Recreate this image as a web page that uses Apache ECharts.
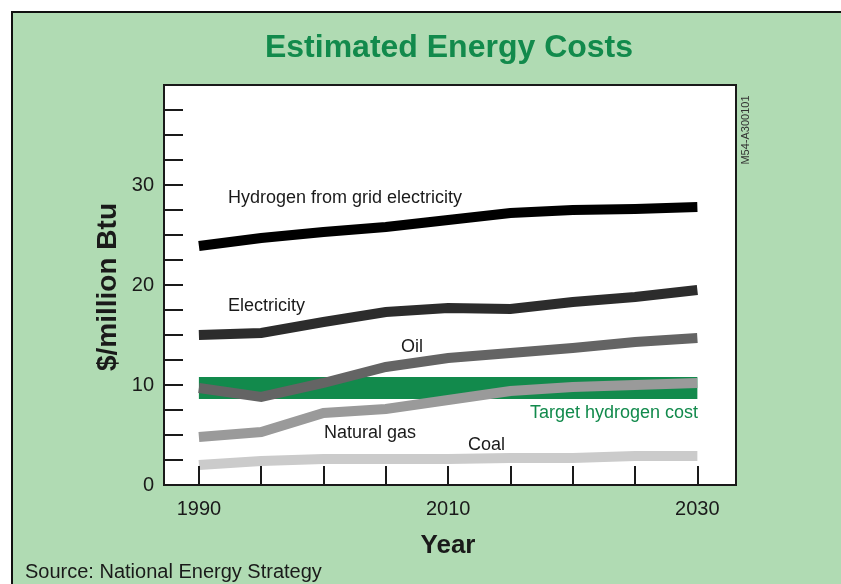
<!DOCTYPE html>
<html>
<head>
<meta charset="utf-8">
<title>Estimated Energy Costs</title>
<script src="https://cdn.jsdelivr.net/npm/echarts@6/dist/echarts.min.js"></script>
<style>
  html, body { margin: 0; padding: 0; background: #fff; }
  #main { width: 841px; height: 584px; }
</style>
</head>
<body>
<div id="main"></div>
<script>
// values, one per 5 years
var years = [1990, 1995, 2000, 2005, 2010, 2015, 2020, 2025, 2030];
var hydrogen = [23.9, 24.7, 25.3, 25.8, 26.5, 27.2, 27.5, 27.6, 27.8];
var electricity = [15.0, 15.2, 16.3, 17.3, 17.7, 17.6, 18.3, 18.8, 19.5];
var oil = [9.7, 8.8, 10.2, 11.8, 12.7, 13.2, 13.7, 14.3, 14.7];
var naturalGas = [4.8, 5.3, 7.2, 7.6, 8.5, 9.4, 9.8, 10.0, 10.2];
var coal = [2.0, 2.4, 2.6, 2.6, 2.6, 2.7, 2.7, 2.9, 2.9];
var targetBand = [8.6, 10.8];

var xLabels = [1990, 2010, 2030];
var yLabels = [0, 10, 20, 30];
var yTicks = [2.5, 5, 7.5, 10, 12.5, 15, 17.5, 20, 22.5, 25, 27.5, 30, 32.5, 35, 37.5];

var FONT = '"Liberation Sans", Arial, sans-serif';
var GREEN = '#128a4c';
var INK = '#1a1a1a';

function pairs(vals) {
    return years.map(function (y, i) { return [y, vals[i]]; });
}

function lineSeries(name, vals, color, z) {
    return {
        name: name,
        type: 'line',
        data: pairs(vals),
        showSymbol: false,
        symbol: 'none',
        z: z,
        lineStyle: { color: color, width: 10, cap: 'butt', join: 'miter' }
    };
}

function note(text, x, y, color, align) {
    return {
        type: 'text', x: x, y: y, z: 50,
        style: {
            text: text, fill: color || INK, font: '18px ' + FONT,
            textAlign: align || 'left', textVerticalAlign: 'middle'
        }
    };
}

var coalSeries = lineSeries('Coal', coal, '#cbcbcb', 5);
// the green target band sits under the oil and gas lines
coalSeries.markArea = {
    silent: true,
    itemStyle: { color: GREEN, opacity: 1 },
    data: [[
        { xAxis: years[0], yAxis: targetBand[0] },
        { xAxis: years[years.length - 1], yAxis: targetBand[1] }
    ]]
};

var myChart = echarts.init(document.getElementById('main'));

myChart.setOption({
    backgroundColor: '#fff',
    animation: false,
    grid: {
        left: 164, right: 105, top: 85, bottom: 99,
        show: true, backgroundColor: '#fff', borderColor: INK, borderWidth: 2
    },
    xAxis: {
        type: 'value',
        min: 1987.2, max: 2033.1,
        z: 20,
        axisLine: { show: false },
        splitLine: { show: false },
        axisTick: {
            show: true, inside: true, length: 19,
            customValues: years,
            lineStyle: { color: INK, width: 2 }
        },
        axisLabel: {
            customValues: xLabels,
            margin: 14,
            formatter: function (v) { return String(v); },
            color: INK, fontSize: 20, fontFamily: FONT
        }
    },
    yAxis: {
        type: 'value',
        min: 0, max: 40,
        z: 20,
        axisLine: { show: false },
        splitLine: { show: false },
        axisTick: {
            show: true, inside: true, length: 19,
            customValues: yTicks,
            lineStyle: { color: INK, width: 2 }
        },
        axisLabel: {
            customValues: yLabels,
            margin: 10,
            color: INK, fontSize: 20, fontFamily: FONT
        }
    },
    series: [
        coalSeries,
        lineSeries('Natural gas', naturalGas, '#9a9a9a', 6),
        lineSeries('Oil', oil, '#646464', 6),
        lineSeries('Electricity', electricity, '#2c2c2c', 6),
        lineSeries('Hydrogen from grid electricity', hydrogen, '#000', 6)
    ],
    graphic: [
        // green panel with its black frame
        {
            type: 'rect', z: -10,
            shape: { x: 12, y: 12, width: 840, height: 580 },
            style: { fill: '#b0dbb3', stroke: '#111', lineWidth: 2 }
        },
        {
            type: 'text', x: 449, y: 48, z: 50,
            style: {
                text: 'Estimated Energy Costs', fill: GREEN,
                font: 'bold 32px ' + FONT, textAlign: 'center', textVerticalAlign: 'middle'
            }
        },
        {
            type: 'text', x: 108, y: 287, rotation: Math.PI / 2, z: 50,
            style: {
                text: '$/million Btu', fill: INK,
                font: 'bold 28px ' + FONT, textAlign: 'center', textVerticalAlign: 'middle'
            }
        },
        {
            type: 'text', x: 448, y: 546, z: 50,
            style: {
                text: 'Year', fill: INK,
                font: 'bold 26px ' + FONT, textAlign: 'center', textVerticalAlign: 'middle'
            }
        },
        {
            type: 'text', x: 25, y: 572, z: 50,
            style: {
                text: 'Source: National Energy Strategy', fill: INK,
                font: '20px ' + FONT, textAlign: 'left', textVerticalAlign: 'middle'
            }
        },
        {
            type: 'text', x: 746, y: 130, rotation: Math.PI / 2, z: 50,
            style: {
                text: 'M54-A300101', fill: '#333',
                font: '11px ' + FONT, textAlign: 'center', textVerticalAlign: 'middle'
            }
        },
        note('Hydrogen from grid electricity', 228, 198),
        note('Electricity', 228, 306),
        note('Oil', 401, 347),
        note('Target hydrogen cost', 698, 413, GREEN, 'right'),
        note('Natural gas', 324, 433),
        note('Coal', 468, 445)
    ]
});
</script>
</body>
</html>
